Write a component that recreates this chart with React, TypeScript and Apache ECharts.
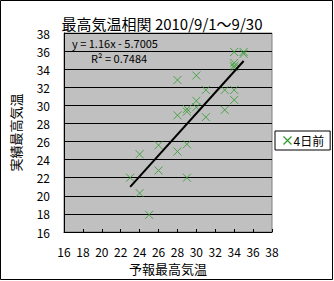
import React, { useEffect, useRef } from "react";
import * as echarts from "echarts";

const forecast = [23, 24, 24, 25, 26, 26, 28, 28, 28, 29, 29, 29, 29, 30, 30, 30, 31, 31, 33, 33, 34, 34, 34, 34, 34, 34, 35, 35];
const actual = [22, 24.6, 20.3, 17.9, 25.6, 22.8, 32.8, 28.9, 24.9, 29.6, 29.3, 25.7, 22, 33.3, 30.5, 29.8, 31.7, 28.7, 31.7, 29.5, 35.9, 34.7, 34.4, 34.2, 31.7, 30.6, 35.9, 35.7];
const trendX = [23, 35];
const trendY = [20.98, 34.9];
const seriesName = "4日前";
const titleText = "最高気温相関 2010/9/1～9/30";
const eqText = "y = 1.16x - 5.7005";
const r2Text = "R² = 0.7484";

const FONT = "'Noto Sans CJK JP', sans-serif";
const XMARK = "path://M0,0L10,10M10,0L0,10";
const GREEN = "#2e9b2e";

export default function App() {
  const ref = useRef<HTMLDivElement>(null);
  useEffect(() => {
    document.body.style.margin = "0";
    const chart = echarts.init(ref.current!, null, { renderer: "svg" });
    chart.setOption({
      animation: false,
      backgroundColor: "#fff",
      color: [GREEN],
      textStyle: { fontFamily: FONT },
      title: {
        text: titleText,
        left: 157,
        top: 11,
        textAlign: "center",
        textStyle: { fontSize: 15, fontWeight: "normal", color: "#000", fontFamily: FONT },
      },
      legend: {
        left: 275,
        top: 131,
        width: 53,
        height: 20,
        padding: [3, 6, 3, 6],
        borderColor: "#000",
        borderWidth: 1,
        backgroundColor: "#fff",
        itemWidth: 8,
        itemHeight: 8,
        itemGap: 2,
        data: [{ name: seriesName, icon: XMARK, itemStyle: { color: "none", borderColor: GREEN, borderWidth: 1.2, opacity: 1 } }],
        textStyle: { fontSize: 12, color: "#000", fontFamily: FONT, padding: [0, 0, 0, -3] },
      },
      grid: { left: 64, right: 62, top: 33, bottom: 49, show: true, backgroundColor: "#c0c0c0", borderColor: "#808080", borderWidth: 1 },
      xAxis: {
        type: "value",
        min: 16,
        max: 38,
        interval: 2,
        name: "予報最高気温",
        nameLocation: "middle",
        nameGap: 29,
        nameTextStyle: { fontSize: 13, color: "#000", fontFamily: FONT },
        axisLine: { show: true, onZero: false, lineStyle: { color: "#000", width: 1 } },
        axisTick: { show: true, inside: true, length: 3, lineStyle: { color: "#000" } },
        axisLabel: { fontSize: 12, color: "#000", margin: 13, fontFamily: FONT },
        splitLine: { show: false },
      },
      yAxis: {
        type: "value",
        min: 16,
        max: 38,
        interval: 2,
        name: "実績最高気温",
        nameLocation: "middle",
        nameGap: 42,
        nameRotate: 90,
        nameTextStyle: { fontSize: 13, color: "#000", fontFamily: FONT },
        axisLine: { show: true, onZero: false, lineStyle: { color: "#000", width: 1 } },
        axisTick: { show: false },
        axisLabel: { fontSize: 12, color: "#000", margin: 14, fontFamily: FONT },
        splitLine: { show: true, lineStyle: { color: "#000", width: 1 } },
      },
      graphic: [
        { type: "rect", shape: { x: 0.5, y: 0.5, width: 332, height: 279 }, style: { fill: "none", stroke: "#000", lineWidth: 1 }, silent: true },
        { type: "text", x: 72, y: 37, style: { text: eqText, fontSize: 11, fill: "#000", fontFamily: FONT } },
        { type: "text", x: 91, y: 52, style: { text: r2Text, fontSize: 11, fill: "#000", fontFamily: FONT } },
      ],
      series: [
        {
          name: seriesName,
          type: "scatter",
          symbol: XMARK,
          symbolSize: 8,
          itemStyle: { color: "none", borderColor: GREEN, borderWidth: 1 },
          data: forecast.map((x, i) => [x, actual[i]]),
          z: 3,
        },
        {
          name: "trend",
          type: "line",
          data: trendX.map((x, i) => [x, trendY[i]]),
          symbol: "none",
          lineStyle: { color: "#000", width: 2 },
          z: 4,
        },
      ],
    });
    return () => chart.dispose();
  }, []);
  return <div ref={ref} style={{ width: 334, height: 281 }} />;
}
